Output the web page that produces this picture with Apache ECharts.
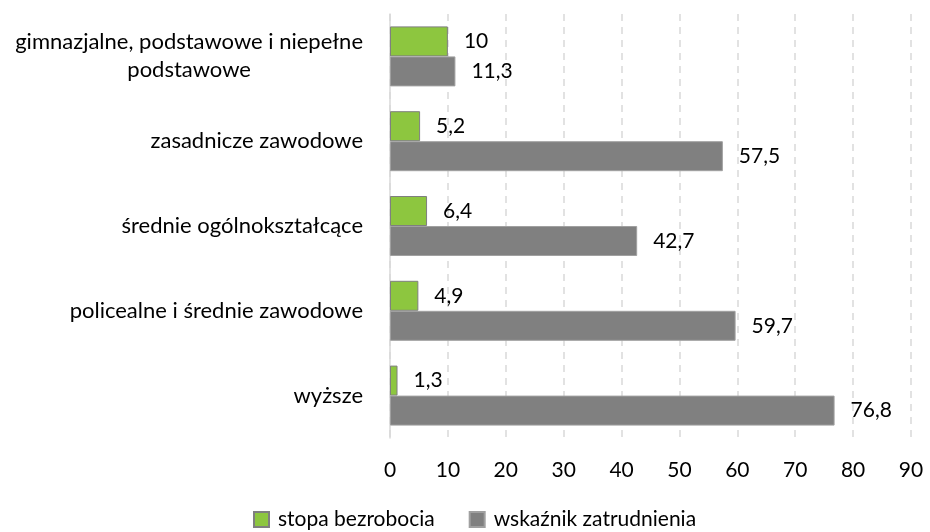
<!DOCTYPE html>
<html>
<head>
<meta charset="utf-8">
<script src="https://cdn.jsdelivr.net/npm/echarts@6/dist/echarts.min.js"></script>
<style>
  html, body { margin: 0; padding: 0; background: #fff; }
  #chart { width: 930px; height: 532px; }
</style>
</head>
<body>
<div id="chart"></div>
<script>
var categories = [
  'gimnazjalne, podstawowe i niepełne\npodstawowe',
  'zasadnicze zawodowe',
  'średnie ogólnokształcące',
  'policealne i średnie zawodowe',
  'wyższe'
]
var stopaBezrobocia = [10, 5.2, 6.4, 4.9, 1.3]
var wskaznikZatrudnienia = [11.3, 57.5, 42.7, 59.7, 76.8]

var font = 'Lato'
var fs = 21
var chart = echarts.init(document.getElementById('chart'))

function comma(p) {
  return String(p.value).replace('.', ',')
}

chart.setOption({
  animation: false,
  textStyle: { fontFamily: font },
  grid: { left: 390, right: 19, top: 14, bottom: 94 },
  legend: {
    bottom: -3,
    left: 248,
    itemWidth: 15,
    itemHeight: 15,
    itemGap: 34,
    icon: 'rect',
    textStyle: { fontSize: fs, color: '#000', fontFamily: font, padding: [0, 0, 0, 4] },
    data: ['stopa bezrobocia', 'wskaźnik zatrudnienia']
  },
  xAxis: {
    type: 'value',
    min: 0,
    max: 90,
    interval: 10,
    axisLine: { show: false },
    axisTick: { show: false },
    axisLabel: { fontSize: fs, color: '#000', margin: 22, fontFamily: font },
    splitLine: { lineStyle: { type: [7, 6], color: '#d9d9d9', width: 1.5 } }
  },
  yAxis: {
    type: 'category',
    inverse: true,
    data: categories,
    axisLine: { lineStyle: { color: '#d9d9d9', width: 1.5 } },
    axisTick: { show: false },
    axisLabel: {
      fontSize: 22, color: '#000', margin: 27, align: 'right', fontFamily: font,
      formatter: function (v) {
        return v.split('\n').map(function (s) { return '{c|' + s + '}' }).join('\n')
      },
      rich: { c: { fontSize: 22, lineHeight: 28, align: 'center', fontFamily: font, color: '#000' } }
    }
  },
  series: [
    {
      name: 'stopa bezrobocia',
      type: 'bar',
      data: stopaBezrobocia,
      barWidth: 30,
      barGap: '0%',
      itemStyle: { color: '#8dc63f', borderColor: '#7f7f7f', borderWidth: 1 },
      label: { show: true, position: 'right', distance: 16, fontSize: fs, color: '#000', formatter: comma, fontFamily: font }
    },
    {
      name: 'wskaźnik zatrudnienia',
      type: 'bar',
      data: wskaznikZatrudnienia,
      barWidth: 30,
      barGap: '0%',
      itemStyle: { color: '#808080', borderColor: '#a0a0a0', borderWidth: 1 },
      label: { show: true, position: 'right', distance: 16, fontSize: fs, color: '#000', formatter: comma, fontFamily: font }
    }
  ]
})
</script>
</body>
</html>
